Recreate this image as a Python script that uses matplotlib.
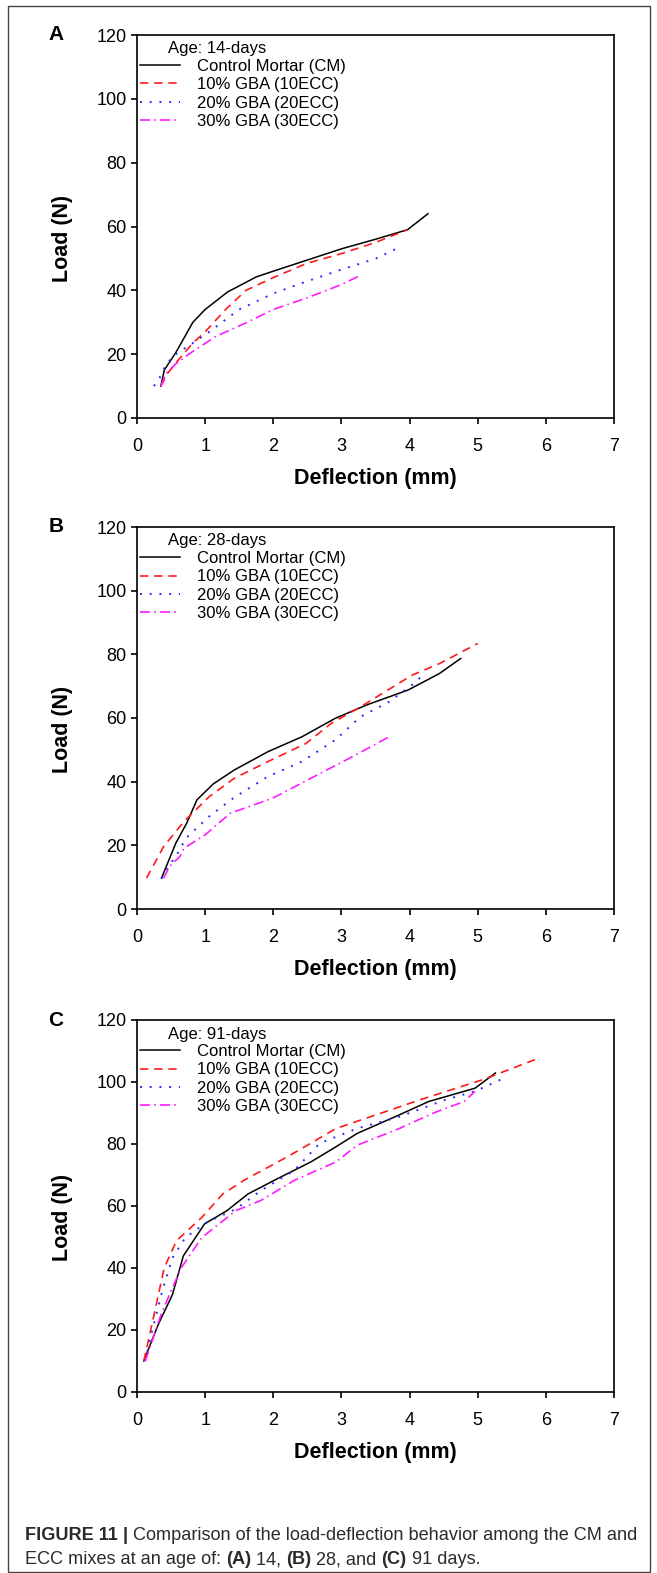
import matplotlib
matplotlib.use("Agg")
import matplotlib.pyplot as plt
from matplotlib.lines import Line2D

plt.rcParams['font.family'] = ['Liberation Sans', 'DejaVu Sans']

# Panel A, age 14 days
a_cm_x = [0.35, 0.40, 0.57, 0.82, 1.0, 1.33, 1.75, 2.0, 2.5, 3.0, 3.5, 3.97, 4.27]
a_cm_y = [10, 15, 20.5, 30, 34, 39.5, 44.2, 46, 49.5, 53, 56, 59, 64]
a_10_x = [0.35, 0.45, 0.6, 0.82, 1.0, 1.3, 1.6, 2.0, 2.5, 3.0, 3.5, 3.97]
a_10_y = [10, 14, 18, 23.5, 27, 34, 40, 44, 48.5, 51.5, 55, 59]
a_20_x = [0.25, 0.33, 0.43, 0.57, 0.82, 1.06, 1.5, 2.0, 2.49, 3.0, 3.51, 3.88]
a_20_y = [10, 12.5, 17, 20, 23.5, 27, 34, 39, 42.8, 46.5, 50, 53.8]
a_30_x = [0.35, 0.43, 0.57, 0.82, 1.16, 1.6, 2.0, 2.49, 3.0, 3.25]
a_30_y = [10, 14, 17, 20.9, 25.6, 29.8, 34, 37.6, 41.8, 44.4]

# Panel B, age 28 days
b_cm_x = [0.36, 0.57, 0.73, 0.88, 1.12, 1.43, 1.92, 2.42, 2.91, 3.37, 3.98, 4.44, 4.75]
b_cm_y = [9.7, 20.7, 27, 34.3, 39.3, 43.7, 49.4, 54.1, 59.9, 64.1, 68.8, 74, 78.7]
b_10_x = [0.14, 0.39, 0.69, 1.06, 1.43, 1.92, 2.48, 2.85, 3.28, 4.04, 4.44, 5.0]
b_10_y = [9.7, 19.6, 27.5, 35.3, 41.1, 46.3, 52, 58.3, 63.5, 73.5, 77.1, 83.4]
b_20_x = [0.36, 0.45, 0.6, 0.72, 1.06, 1.43, 1.92, 2.42, 2.91, 3.28, 3.7, 4.07, 4.17]
b_20_y = [9.7, 12.9, 17.6, 22.3, 29.1, 35.1, 41.6, 46.3, 53.1, 60.4, 65.1, 70.9, 73]
b_30_x = [0.39, 0.48, 0.63, 0.69, 1.0, 1.37, 1.99, 2.6, 3.21, 3.7]
b_30_y = [9.7, 13.4, 16.5, 19.1, 23.3, 30.1, 34.8, 41.6, 48.4, 54.1]

# Panel C, age 91 days
c_cm_x = [0.1, 0.31, 0.52, 0.68, 0.99, 1.32, 1.63, 2.06, 2.55, 2.92, 3.23, 3.85, 4.28, 4.96, 5.26]
c_cm_y = [10, 21.7, 31.4, 43.9, 54.2, 58.5, 63.9, 68.8, 74.2, 79.1, 83.4, 89.4, 93.7, 98, 102.9]
c_10_x = [0.1, 0.25, 0.4, 0.58, 0.95, 1.26, 1.57, 2.25, 2.92, 4.16, 5.08, 5.91]
c_10_y = [10, 24.9, 40.1, 48.8, 56.3, 63.9, 68.3, 76.4, 85, 94.3, 100.8, 107.8]
c_20_x = [0.12, 0.22, 0.37, 0.52, 0.71, 1.02, 1.45, 1.82, 2.31, 2.68, 3.23, 3.85, 4.53, 4.96, 5.39]
c_20_y = [10, 19.5, 32.5, 43.3, 49.8, 54.7, 59, 65, 71.5, 80.2, 85, 88.8, 94.3, 97, 101.3]
c_30_x = [0.12, 0.22, 0.37, 0.65, 0.95, 1.45, 1.82, 2.31, 2.92, 3.23, 3.85, 4.34, 4.8, 4.96]
c_30_y = [10, 16.3, 26, 40.1, 49.8, 58.5, 61.8, 68.3, 74.2, 79.6, 85, 89.9, 93.7, 97]

labels = ["Control Mortar (CM)", "10% GBA (10ECC)", "20% GBA (20ECC)", "30% GBA (30ECC)"]
x_ticks = [0, 1, 2, 3, 4, 5, 6, 7]
y_ticks = [0, 20, 40, 60, 80, 100, 120]

W, H = 657, 1573
fig = plt.figure(figsize=(W / 100, H / 100), dpi=100)

# line styles: solid black, dashed red, dotted blue, dash-dot magenta
styles = [
    dict(color="black", lw=1.1, linestyle="-"),
    dict(color="#ff1a1a", lw=1.2, dashes=(5, 3.5)),
    dict(color="#2a2aff", lw=1.4, dashes=(1, 4)),
    dict(color="#ff1aff", lw=1.2, dashes=(6, 2.5, 1, 2.5)),
]


def draw_panel(top_px, bottom_px, letter, age, series):
    ax = fig.add_axes([137 / W, 1 - bottom_px / H, 477 / W, (bottom_px - top_px) / H])
    for (xs, ys), st in zip(series, styles):
        ax.plot(xs, ys, **st)
    ax.set_xlim(0, 7)
    ax.set_ylim(0, 120)
    ax.set_xticks(x_ticks)
    ax.set_yticks(y_ticks)
    for s in ax.spines.values():
        s.set_linewidth(1.2)
    ax.tick_params(direction="out", length=4, width=1.2, labelsize=13)
    ax.tick_params(axis="x", pad=10.5)
    ax.tick_params(axis="y", pad=3.5)
    ax.set_xlabel("Deflection (mm)", fontsize=15.5, fontweight="bold")
    ax.set_ylabel("Load (N)", fontsize=15.5, fontweight="bold")
    h = bottom_px - top_px
    ax.xaxis.set_label_coords(0.5, -(50 / h))
    ax.yaxis.set_label_coords(-(64 / 477), 0.47)

    # panel letter
    fig.text(56 / W, 1 - top_px / H, letter, fontsize=15, fontweight="bold", ha="center", va="center")

    # legend title and entries
    fig.text(168 / W, 1 - (top_px + 14) / H, age, fontsize=12, va="center")
    handles = [Line2D([], [], **st) for st in styles]
    ax.legend(handles, labels, loc="upper left", bbox_to_anchor=(140 / W, 1 - (top_px + 24) / H),
              bbox_transform=fig.transFigure, frameon=False, fontsize=12, handlelength=2.4,
              handletextpad=1.0, labelspacing=0.2, borderpad=0, borderaxespad=0)
    return ax


draw_panel(35, 418, "A", "Age: 14-days",
           [(a_cm_x, a_cm_y), (a_10_x, a_10_y), (a_20_x, a_20_y), (a_30_x, a_30_y)])
draw_panel(527, 909, "B", "Age: 28-days",
           [(b_cm_x, b_cm_y), (b_10_x, b_10_y), (b_20_x, b_20_y), (b_30_x, b_30_y)])
draw_panel(1020, 1392, "C", "Age: 91-days",
           [(c_cm_x, c_cm_y), (c_10_x, c_10_y), (c_20_x, c_20_y), (c_30_x, c_30_y)])

# frame around the figure
frame = plt.Rectangle((8 / W, 1 / H), 642 / W, 1 - 7 / H, transform=fig.transFigure,
                      fill=False, edgecolor="#444444", lw=1.0)
fig.patches.append(frame)

# caption, with bold parts drawn piece by piece
renderer = fig.canvas.get_renderer()
cap_lines = [
    [("FIGURE 11", "bold"), (" | ", "bold"), ("Comparison of the load-deflection behavior among the CM and", "normal")],
    [("ECC mixes at an age of: ", "normal"), ("(A)", "bold"), (" 14, ", "normal"), ("(B)", "bold"),
     (" 28, and ", "normal"), ("(C)", "bold"), (" 91 days.", "normal")],
]
cap_y = [1536, 1560]
for line, yp in zip(cap_lines, cap_y):
    x = 25
    for txt, wt in line:
        t = fig.text(x / W, 1 - yp / H, txt, fontsize=13.1, fontweight=wt, color="#2b2b2b", va="center")
        x += t.get_window_extent(renderer).width

fig.savefig("out.png", dpi=100)
